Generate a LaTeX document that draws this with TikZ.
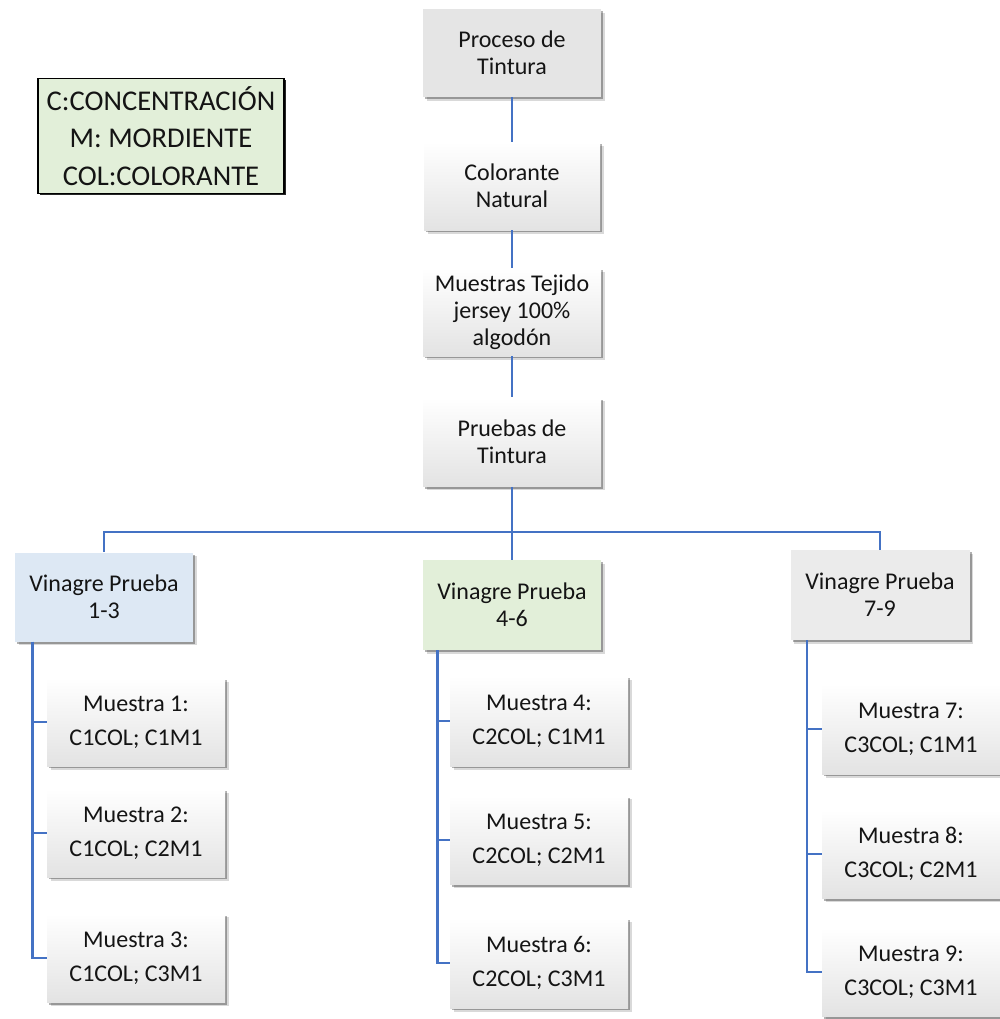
\documentclass[tikz,border=0pt]{standalone}
\usepackage{fontspec}
\setmainfont{Carlito}
\usetikzlibrary{shadows}
\definecolor{linkblue}{HTML}{4472C4}
\definecolor{procgray}{HTML}{E5E5E5}
\definecolor{vinblue}{HTML}{DDE8F4}
\definecolor{vingreen}{HTML}{E2EFD9}
\definecolor{vingray}{HTML}{EBEBEB}
\begin{document}
\begin{tikzpicture}[x=0.5pt,y=-0.5pt,
  softshadow/.style={
    drop shadow={shadow xshift=1.8pt,shadow yshift=-1.8pt,opacity=.15,fill=black},
    drop shadow={shadow xshift=1pt,shadow yshift=-1pt,opacity=.3,fill=black}},
  box/.style={rectangle, minimum width=89pt, minimum height=44pt, inner sep=2pt,
    align=center, text=black!92, font=\fontsize{12}{13.5}\selectfont, softshadow},
  gradbox/.style={box, top color=white, bottom color=black!11},
  sample/.style={gradbox, font=\fontsize{12}{17}\selectfont},
  conn/.style={draw=linkblue, line width=1.2pt}]
\useasboundingbox (0,0) rectangle (1000,1019);

% legend
\node[rectangle, minimum width=123pt, minimum height=57.5pt, inner sep=2pt,
  fill=vingreen, draw=black, line width=0.6pt, align=center,
  text=black!92, font=\fontsize{14.3}{18.75}\selectfont,
  drop shadow={shadow xshift=0.9pt,shadow yshift=-0.9pt,opacity=.85,fill=black}]
  (legend) at (161,136) {C:CONCENTRACIÓN\\M: MORDIENTE\\COL:COLORANTE};

% main chain
\node[box, fill=procgray] (proc) at (512,53) {Proceso de\\Tintura};
\node[gradbox, minimum width=88pt] (col) at (512,186) {Colorante\\Natural};
\node[gradbox] (mue) at (512,312) {Muestras Tejido\\jersey 100\%\\algodón};
\node[gradbox, minimum height=44.5pt] (pru) at (512,442) {Pruebas de\\Tintura};

% vinegar groups
\node[box, fill=vinblue, minimum height=44.5pt] (v1) at (104,597) {Vinagre Prueba\\1-3};
\node[box, fill=vingreen, minimum height=45pt] (v2) at (512,605) {Vinagre Prueba\\4-6};
\node[box, fill=vingray, minimum height=45pt, minimum width=89.5pt] (v3) at (880,595) {Vinagre Prueba\\7-9};

% samples
\node[sample] (m1) at (136,722) {Muestra 1:\\C1COL; C1M1};
\node[sample] (m2) at (136,833) {Muestra 2:\\C1COL; C2M1};
\node[sample, minimum height=44.5pt] (m3) at (136,958) {Muestra 3:\\C1COL; C3M1};
\node[sample, minimum height=45pt] (m4) at (539,721) {Muestra 4:\\C2COL; C1M1};
\node[sample, minimum height=44.5pt] (m5) at (539,840) {Muestra 5:\\C2COL; C2M1};
\node[sample, minimum height=45pt] (m6) at (539,963) {Muestra 6:\\C2COL; C3M1};
\node[sample, minimum height=45pt] (m7) at (911,729) {Muestra 7:\\C3COL; C1M1};
\node[sample, minimum height=44.5pt] (m8) at (911,854) {Muestra 8:\\C3COL; C2M1};
\node[sample, minimum height=44.5pt] (m9) at (911,972) {Muestra 9:\\C3COL; C3M1};

% connectors
\coordinate (bus) at (512,532);
\draw[conn] (proc) -- (col);
\draw[conn] (col) -- (mue);
\draw[conn] (mue) -- (pru);
\draw[conn] (pru.south) -- (v2.north);
\draw[conn] (v1.north) |- (bus) -| (v3.north);
\draw[conn] ([xshift=9pt]v1.south west) |- (m1.west);
\draw[conn] ([xshift=9pt]v1.south west) |- (m2.west);
\draw[conn] ([xshift=9pt]v1.south west) |- (m3.west);
\draw[conn] ([xshift=7.5pt]v2.south west) |- (m4.west);
\draw[conn] ([xshift=7.5pt]v2.south west) |- (m5.west);
\draw[conn] ([xshift=7.5pt]v2.south west) |- (m6.west);
\draw[conn] ([xshift=8.5pt]v3.south west) |- (m7.west);
\draw[conn] ([xshift=8.5pt]v3.south west) |- (m8.west);
\draw[conn] ([xshift=8.5pt]v3.south west) |- (m9.west);
\end{tikzpicture}
\end{document}
